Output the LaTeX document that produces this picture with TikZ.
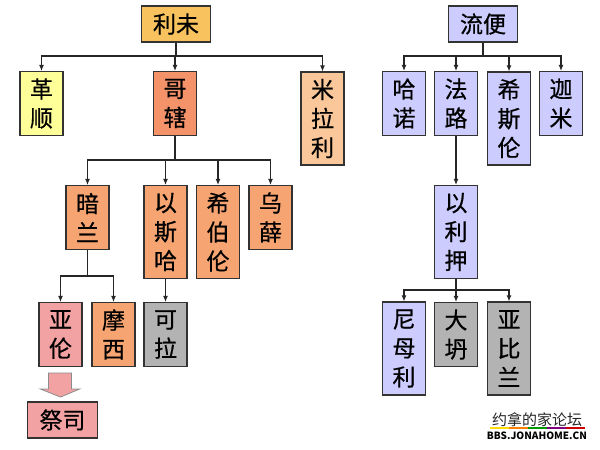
\documentclass[tikz,border=0pt]{standalone}
\usepackage{fontspec}
\setmainfont[FakeBold=0.6]{Noto Sans CJK SC}
\newfontfamily\wmfont{Noto Sans CJK SC}
\usetikzlibrary{arrows.meta}
\definecolor{cgold}{HTML}{F8C35E}
\definecolor{cyel}{HTML}{FFFF99}
\definecolor{ccoral}{HTML}{F4926A}
\definecolor{cpeach}{HTML}{F9C79A}
\definecolor{corange}{HTML}{F6A472}
\definecolor{cpink}{HTML}{F2A2A2}
\definecolor{cgray}{HTML}{B3B3B3}
\definecolor{clav}{HTML}{CCCCFF}
\begin{document}
\begin{tikzpicture}[x=1pt,y=-1pt,
  box/.style={draw=black!80, line width=1.1pt, inner sep=0pt, align=center,
    font=\fontsize{23}{29}\selectfont},
  tall2/.style={box, minimum width=43pt, minimum height=64pt},
  tall3/.style={box, minimum width=43pt, minimum height=93pt},
  wide/.style={box, minimum width=69pt, minimum height=36pt},
  arr/.style={draw=black!85, line width=1.1pt, -{Latex[length=6pt,width=5pt]}}]
\fill[white] (0,0) rectangle (600,450);
\useasboundingbox (0,0) rectangle (600,450);
% left tree
\node[wide, fill=cgold] (liwei) at (176,24) {利未};
\node[tall2, fill=cyel] (geshun) at (41.5,103.5) {革\\顺};
\node[tall2, fill=ccoral] (gexia) at (175,103.5) {哥\\辖};
\node[tall3, fill=cpeach] (milali) at (322.5,118.5) {米\\拉\\利};
\node[tall2, fill=corange] (anlan) at (87.5,217.5) {暗\\兰};
\node[tall3, fill=corange] (yisiha) at (165.5,232) {以\\斯\\哈};
\node[tall3, fill=corange] (xibolun) at (218,232) {希\\伯\\伦};
\node[tall2, fill=corange] (wuxue) at (270.5,217.5) {乌\\薛};
\node[tall2, fill=cpink] (yalun) at (60.5,334.5) {亚\\伦};
\node[tall2, fill=corange] (moxi) at (113.5,334.5) {摩\\西};
\node[tall2, fill=cgray] (kela) at (165.5,334.5) {可\\拉};
\node[wide, fill=cpink, minimum width=70pt] (jisi) at (62.5,420) {祭司};
% right tree
\node[wide, fill=clav] (liubian) at (483,24) {流便};
\node[tall2, fill=clav] (hanuo) at (404,103.5) {哈\\诺};
\node[tall2, fill=clav] (falu) at (456,103.5) {法\\路};
\node[tall3, fill=clav] (xisilun) at (509,118.5) {希\\斯\\伦};
\node[tall2, fill=clav] (jiami) at (561,103.5) {迦\\米};
\node[tall3, fill=clav] (yiliya) at (456,232) {以\\利\\押};
\node[tall3, fill=clav] (nimuli) at (404,348.5) {尼\\母\\利};
\node[tall2, fill=cgray] (datan) at (456,334.5) {大\\坍};
\node[tall3, fill=cgray] (yabilan) at (509,348.5) {亚\\比\\兰};
% bus coordinates
\coordinate (bA) at (0,56);
\coordinate (bB) at (0,160);
\coordinate (bC) at (0,276);
\coordinate (bD) at (0,290);
% connectors
\foreach \c in {geshun,gexia,milali}
  \draw[arr] (liwei.south) -- (liwei.south |- bA) -| (\c.north);
\foreach \c in {anlan,yisiha,xibolun,wuxue}
  \draw[arr] (gexia.south) -- (gexia.south |- bB) -| (\c.north);
\foreach \c in {yalun,moxi}
  \draw[arr] (anlan.south) -- (anlan.south |- bC) -| (\c.north);
\draw[arr] (yisiha.south) -- (kela.north);
\foreach \c in {hanuo,falu,xisilun,jiami}
  \draw[arr] (liubian.south) -- (liubian.south |- bA) -| (\c.north);
\draw[arr] (falu.south) -- (yiliya.north);
\foreach \c in {nimuli,datan,yabilan}
  \draw[arr] (yiliya.south) -- (yiliya.south |- bD) -| (\c.north);
% block arrow
\draw[fill=cpink, draw=black!45, line width=0.8pt]
  ([shift={(-12,6)}]yalun.south) -- ([shift={(11,6)}]yalun.south)
  -- ([shift={(11,22)}]yalun.south) -- ([shift={(19,22)}]yalun.south)
  -- ([shift={(0,30)}]yalun.south) -- ([shift={(-20,22)}]yalun.south)
  -- ([shift={(-12,22)}]yalun.south) -- cycle;
% watermark
\node[font=\wmfont\fontsize{15}{15}\selectfont, inner sep=0pt, text=black!85] (wm1) at (537,420) {约拿的家论坛};
\foreach \i/\col in {0/yellow!80!orange,1/orange,2/green!60!black,3/violet,4/red!80!black}
  \fill[\col] (490+19*\i,427) rectangle (509+19*\i,429);
\node[font=\wmfont\fontsize{10}{10}\selectfont\bfseries, inner sep=0pt] (wm2) at (537,436) {BBS.JONAHOME.CN};
\end{tikzpicture}
\end{document}
